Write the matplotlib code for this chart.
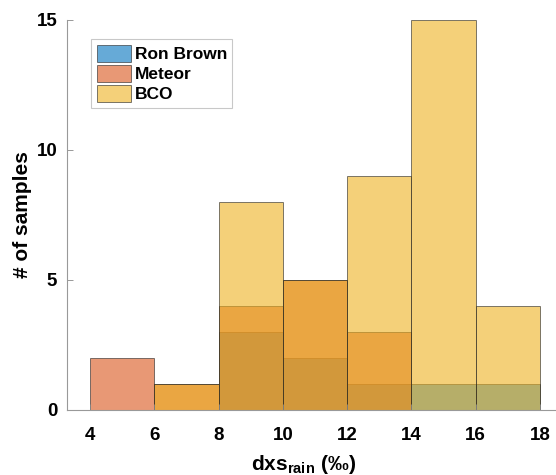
import numpy as np
import matplotlib
matplotlib.use('Agg')
import matplotlib.pyplot as plt

plt.rcParams['font.family'] = ['Liberation Sans', 'DejaVu Sans']
plt.rcParams['font.weight'] = 'bold'
plt.rcParams['mathtext.fontset'] = 'custom'
plt.rcParams['mathtext.rm'] = 'Liberation Sans:bold'

# bin edges and counts per platform
bin_edges = [4, 6, 8, 10, 12, 14, 16, 18]
ron_brown = [0, 0, 3, 2, 1, 1, 1]
meteor = [2, 1, 4, 5, 3, 0, 0]
bco = [0, 1, 8, 5, 9, 15, 4]
labels = ['Ron Brown', 'Meteor', 'BCO']

colors = [(0.0, 0.447, 0.741), (0.85, 0.325, 0.098), (0.929, 0.694, 0.125)]

fig = plt.figure(figsize=(5.56, 4.75), dpi=100)
ax = fig.add_axes([0.1205, 0.137, 0.8795, 0.821])

edges = np.array(bin_edges)
centers = (edges[:-1] + edges[1:]) / 2
for counts, lab, col in zip([ron_brown, meteor, bco], labels, colors):
    ax.hist(centers, bins=edges, weights=counts, color=col, alpha=0.6,
            edgecolor=(0.15, 0.15, 0.15), linewidth=0.7, label=lab)

ax.set_xlim(3.284, 18.5)
ax.set_ylim(0, 15)
ax.set_xticks(bin_edges)
ax.set_yticks([0, 5, 10, 15])
ax.tick_params(direction='in', length=4, width=0.6, color='#888888',
               labelsize=13.5)
ax.tick_params(axis='x', pad=12)
ax.tick_params(axis='y', pad=7)
for s in ['top', 'right']:
    ax.spines[s].set_visible(False)
for s in ['left', 'bottom']:
    ax.spines[s].set_color('#999999')
    ax.spines[s].set_linewidth(0.8)

ax.set_xlabel(r'dxs$_{\mathrm{rain}}$ (‰)', fontsize=15, fontweight='bold')
ax.xaxis.set_label_coords(0.483, -0.11)
ax.set_ylabel('# of samples', fontsize=15, fontweight='bold', labelpad=3)

leg = ax.legend(loc='upper left', bbox_to_anchor=(0.05, 0.95), fontsize=12.5,
                frameon=True, fancybox=False, handlelength=2.0,
                handleheight=1.15, handletextpad=0.2, labelspacing=0.15,
                borderpad=0.3, borderaxespad=0)
leg.get_frame().set_edgecolor('#bbbbbb')
leg.get_frame().set_linewidth(0.8)

fig.savefig('out.png', dpi=100)
